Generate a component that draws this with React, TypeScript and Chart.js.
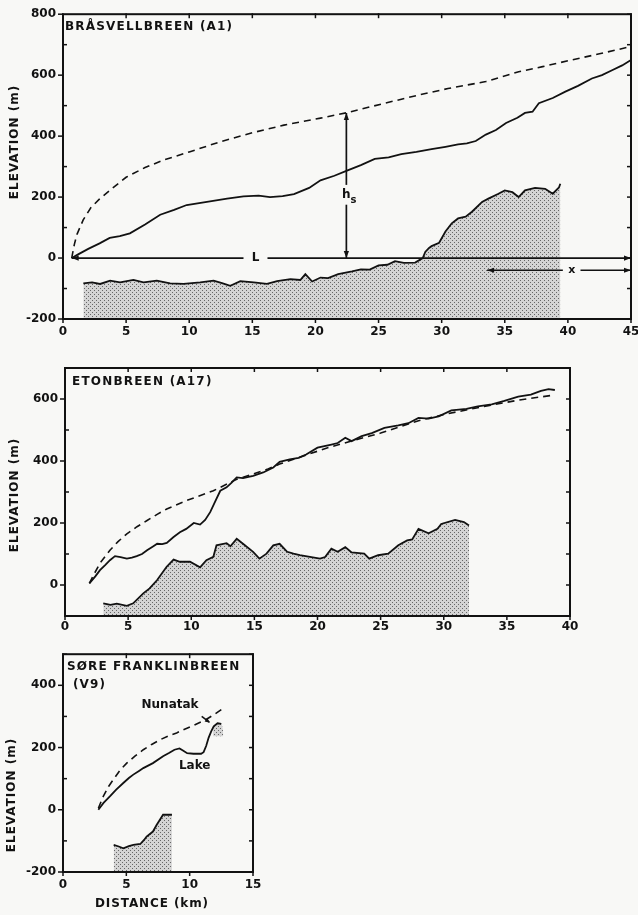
import { useEffect, useRef } from 'react';
import { Chart, registerables } from 'chart.js';
Chart.register(...registerables);

const INK = '#121212';
const FONT = 'DejaVu Sans';

// ---------- Panel 1: BRÅSVELLBREEN (A1) ----------
const a1SurfaceKm = [0.69, 1.2, 2.0, 2.9, 3.7, 4.5, 5.3, 6.5, 7.7, 8.8, 9.8, 11.4, 13.0, 14.3, 15.5, 16.4, 17.4, 18.3, 19.5, 20.4, 21.5, 22.5, 23.6, 24.7, 25.8, 26.8, 28.0, 29.2, 30.3, 31.3, 32.0, 32.7, 33.5, 34.3, 35.1, 36.0, 36.6, 37.2, 37.7, 38.8, 39.8, 40.8, 41.9, 42.7, 43.5, 44.3, 45.0];
const a1SurfaceM = [0, 12, 30, 48, 66, 72, 81, 110, 142, 158, 174, 184, 195, 202, 205, 200, 203, 210, 230, 255, 270, 287, 305, 325, 330, 341, 348, 357, 365, 373, 376, 384, 405, 420, 443, 460, 476, 480, 508, 525, 546, 565, 589, 600, 616, 632, 650];
const a1ModelKm = [0.69, 0.9, 1.1, 1.6, 2.2, 2.9, 4.0, 5.0, 6.5, 8.0, 10.0, 12.5, 15.0, 17.5, 20.4, 22.5, 25.5, 28.2, 30.5, 33.5, 36.1, 38.0, 40.1, 42.5, 45.0];
const a1ModelM = [0, 45, 77, 125, 165, 194, 232, 265, 297, 322, 348, 382, 411, 436, 459, 477, 508, 535, 556, 579, 611, 628, 648, 670, 694];
const a1BedKm = [1.61, 2.3, 2.94, 3.73, 4.52, 5.58, 6.38, 7.43, 8.49, 9.55, 10.87, 11.93, 12.6, 13.25, 14.05, 15.11, 16.16, 16.96, 18.02, 18.8, 19.2, 19.74, 20.4, 21.0, 21.8, 22.9, 23.6, 24.3, 25.0, 25.7, 26.3, 27.0, 27.9, 28.5, 28.7, 29.0, 29.2, 29.8, 30.3, 30.8, 31.3, 31.9, 32.4, 33.2, 33.7, 34.5, 35.0, 35.6, 36.1, 36.6, 37.4, 38.2, 38.8, 39.3, 39.4];
const a1BedM = [-83, -80, -85, -74, -80, -72, -80, -74, -83, -85, -80, -74, -82, -91, -76, -80, -85, -76, -69, -72, -53, -77, -64, -66, -53, -44, -37, -38, -24, -22, -10, -16, -15, 0, 20, 33, 39, 50, 87, 114, 130, 136, 152, 184, 195, 211, 222, 216, 200, 222, 230, 227, 211, 232, 244];

// ---------- Panel 2: ETONBREEN (A17) ----------
const a17SurfaceKm = [1.93, 2.4, 2.77, 3.2, 3.56, 3.96, 4.4, 4.9, 5.3, 5.68, 6.1, 6.5, 7.0, 7.3, 7.7, 8.06, 8.6, 9.1, 9.6, 10.2, 10.7, 11.1, 11.5, 11.9, 12.3, 12.8, 13.2, 13.6, 14.1, 14.9, 15.7, 16.5, 17.0, 17.8, 18.5, 19.1, 20.0, 21.1, 21.6, 22.2, 22.7, 23.5, 24.3, 25.3, 26.4, 27.2, 28.0, 28.8, 29.6, 30.6, 31.8, 32.7, 33.8, 34.8, 35.9, 36.9, 37.7, 38.3, 38.8];
const a17SurfaceM = [5, 28, 48, 65, 80, 93, 90, 85, 88, 93, 100, 112, 125, 133, 132, 136, 155, 170, 181, 200, 195, 210, 235, 270, 304, 315, 330, 347, 345, 352, 363, 379, 397, 405, 410, 421, 443, 453, 458, 475, 464, 480, 490, 507, 515, 522, 539, 537, 544, 563, 568, 576, 583, 594, 608, 614, 626, 632, 629];
const a17ModelKm = [1.93, 2.3, 2.8, 3.56, 4.2, 4.9, 5.7, 6.5, 7.3, 8.06, 9.6, 11.75, 13.6, 16.0, 17.0, 19.0, 21.0, 23.0, 25.0, 28.0, 30.0, 33.2, 36.0, 38.8];
const a17ModelM = [5, 35, 72, 112, 140, 165, 188, 208, 228, 245, 272, 304, 341, 373, 390, 418, 445, 468, 490, 530, 550, 576, 597, 613];
const a17BedKm = [3.03, 3.6, 4.1, 4.9, 5.4, 6.2, 6.7, 7.3, 8.05, 8.6, 9.1, 9.9, 10.7, 11.2, 11.75, 12.0, 12.8, 13.1, 13.6, 14.1, 14.9, 15.4, 15.96, 16.5, 17.0, 17.6, 18.1, 18.6, 19.4, 20.2, 20.6, 21.1, 21.6, 22.2, 22.7, 23.7, 24.1, 24.8, 25.6, 26.4, 27.1, 27.5, 28.0, 28.8, 29.5, 29.8, 30.9, 31.6, 32.0];
const a17BedM = [-59, -64, -60, -67, -59, -27, -11, 16, 59, 82, 75, 75, 57, 80, 91, 128, 135, 125, 149, 133, 107, 85, 101, 128, 133, 107, 101, 96, 91, 85, 90, 117, 107, 122, 105, 101, 85, 96, 101, 128, 144, 147, 181, 167, 181, 197, 210, 203, 192];

// ---------- Panel 3: SØRE FRANKLINBREEN (V9) ----------
const v9SurfaceKm = [2.79, 3.2, 3.7, 4.2, 4.76, 5.2, 5.55, 6.0, 6.34, 7.1, 7.9, 8.4, 8.8, 9.2, 9.5, 9.8, 10.3, 10.9, 11.1, 11.3, 11.5, 11.7, 11.9, 12.2, 12.5];
const v9SurfaceM = [0, 22, 43, 65, 86, 102, 113, 125, 134, 150, 172, 183, 193, 197, 190, 182, 180, 180, 185, 205, 232, 252, 268, 278, 276];
const v9ModelKm = [2.79, 3.18, 3.6, 3.97, 4.5, 5.03, 5.7, 6.34, 7.0, 7.66, 8.3, 8.97, 9.6, 10.3, 11.3, 12.0, 12.5];
const v9ModelM = [5, 43, 75, 97, 127, 150, 173, 193, 210, 225, 237, 247, 259, 271, 290, 308, 322];
const v9BedKm = [4.0, 4.4, 4.76, 5.2, 5.55, 6.1, 6.4, 6.6, 7.1, 7.4, 7.6, 7.9, 8.2, 8.6];
const v9BedM = [-113, -118, -124, -117, -113, -110, -97, -86, -70, -48, -35, -16, -16, -16];
const v9NunatakKm = [11.85, 12.0, 12.3, 12.55, 12.65];
const v9NunatakM = [262, 275, 280, 272, 250];

const pts = (xs: number[], ys: number[]) => xs.map((x, i) => ({ x, y: ys[i] }));

function makeStipple(ctx: CanvasRenderingContext2D) {
  const off = document.createElement('canvas');
  off.width = 4; off.height = 4;
  const c = off.getContext('2d')!;
  c.fillStyle = '#d4d4d4';
  c.fillRect(0, 0, 4, 4);
  c.fillStyle = '#666666';
  c.fillRect(0, 0, 1, 1);
  c.fillRect(2, 2, 1, 1);
  return ctx.createPattern(off, 'repeat');
}

function arrowHead(ctx: CanvasRenderingContext2D, x1: number, y1: number, x2: number, y2: number, size = 7, half = 2.6) {
  const a = Math.atan2(y2 - y1, x2 - x1);
  ctx.beginPath();
  ctx.moveTo(x2, y2);
  ctx.lineTo(x2 - size * Math.cos(a) + half * Math.sin(a), y2 - size * Math.sin(a) - half * Math.cos(a));
  ctx.lineTo(x2 - size * Math.cos(a) - half * Math.sin(a), y2 - size * Math.sin(a) + half * Math.cos(a));
  ctx.closePath();
  ctx.fill();
}

function seg(ctx: CanvasRenderingContext2D, x1: number, y1: number, x2: number, y2: number) {
  ctx.beginPath();
  ctx.moveTo(x1, y1);
  ctx.lineTo(x2, y2);
  ctx.stroke();
}

function txt(ctx: CanvasRenderingContext2D, s: string, x: number, y: number, align: CanvasTextAlign = 'left', baseline: CanvasTextBaseline = 'alphabetic', spacing = 0, rotate = false, size = 12) {
  ctx.save();
  ctx.font = `bold ${size}px "${FONT}"`;
  (ctx as any).letterSpacing = `${spacing}px`;
  ctx.fillStyle = INK;
  ctx.textAlign = align;
  ctx.textBaseline = baseline;
  if (rotate) {
    ctx.translate(x, y);
    ctx.rotate(-Math.PI / 2);
    ctx.fillText(s, 0, 0);
  } else {
    ctx.fillText(s, x, y);
  }
  ctx.restore();
}

const framePlugin = {
  id: 'frame',
  afterDatasetsDraw(chart: any) {
    const ctx: CanvasRenderingContext2D = chart.ctx;
    const { left, right, top, bottom } = chart.chartArea;
    const xs = chart.scales.x;
    const ys = chart.scales.y;
    ctx.save();
    ctx.strokeStyle = INK;
    ctx.lineWidth = 2;
    ctx.strokeRect(left, top, right - left, bottom - top);
    ctx.lineWidth = 1.5;
    for (let v = xs.min; v <= xs.max + 1e-6; v += 5) {
      const p = xs.getPixelForValue(v);
      seg(ctx, p, bottom, p, bottom + 4);
      seg(ctx, p, top - 1, p, top + 4);
    }
    for (let v = ys.min; v <= ys.max + 1e-6; v += 100) {
      const p = ys.getPixelForValue(v);
      if (v % 200 === 0) seg(ctx, left - 5, p, left, p);
      else seg(ctx, left, p, left + 4, p);
      seg(ctx, right - 4, p, right, p);
    }
    ctx.restore();
  },
};

function elevLabel(ctx: CanvasRenderingContext2D, x: number, y: number) {
  txt(ctx, 'ELEVATION (m)', x, y, 'center', 'middle', 1, true);
}

const deco1 = {
  id: 'deco1',
  afterDatasetsDraw(chart: any) {
    const ctx: CanvasRenderingContext2D = chart.ctx;
    const X = (v: number) => chart.scales.x.getPixelForValue(v);
    const Y = (v: number) => chart.scales.y.getPixelForValue(v);
    const { left, top } = chart.chartArea;
    ctx.save();
    ctx.strokeStyle = INK;
    ctx.fillStyle = INK;
    ctx.lineWidth = 1.7;
    // L line
    seg(ctx, X(0.69), Y(0), X(14.3), Y(0));
    seg(ctx, X(16.2), Y(0), X(45), Y(0));
    arrowHead(ctx, X(2), Y(0), X(0.69), Y(0));
    arrowHead(ctx, X(43), Y(0), X(45), Y(0));
    // h_s arrow
    seg(ctx, X(22.45), Y(0), X(22.45), Y(175));
    seg(ctx, X(22.45), Y(240), X(22.45), Y(476));
    arrowHead(ctx, X(22.45), Y(60), X(22.45), Y(0));
    arrowHead(ctx, X(22.45), Y(400), X(22.45), Y(476));
    // x arrow
    seg(ctx, X(33.6), Y(-40), X(39.6), Y(-40));
    seg(ctx, X(41.0), Y(-40), X(45), Y(-40));
    arrowHead(ctx, X(35), Y(-40), X(33.6), Y(-40));
    arrowHead(ctx, X(43.5), Y(-40), X(45), Y(-40));
    ctx.restore();
    txt(ctx, 'L', X(15.25), Y(0), 'center', 'middle');
    txt(ctx, 'h', X(22.45), Y(198), 'center', 'alphabetic');
    txt(ctx, 's', X(22.45) + 7, Y(198) + 5, 'center', 'alphabetic', 0, false, 10);
    txt(ctx, 'x', X(40.3), Y(-40), 'center', 'middle', 0, false, 11);
    txt(ctx, 'BRÅSVELLBREEN (A1)', left + 2, top + 16, 'left', 'alphabetic', 1.2);
    elevLabel(ctx, 15, 142);
  },
};

const deco2 = {
  id: 'deco2',
  afterDatasetsDraw(chart: any) {
    const ctx: CanvasRenderingContext2D = chart.ctx;
    const { left, top } = chart.chartArea;
    txt(ctx, 'ETONBREEN (A17)', left + 7, top + 17, 'left', 'alphabetic', 1.2);
    elevLabel(ctx, 15, 495 - 350);
  },
};

const deco3 = {
  id: 'deco3',
  afterDatasetsDraw(chart: any) {
    const ctx: CanvasRenderingContext2D = chart.ctx;
    const X = (v: number) => chart.scales.x.getPixelForValue(v);
    const Y = (v: number) => chart.scales.y.getPixelForValue(v);
    const { left, top } = chart.chartArea;
    ctx.save();
    ctx.strokeStyle = INK;
    ctx.fillStyle = INK;
    ctx.lineWidth = 1.5;
    seg(ctx, X(10.95), Y(300), X(11.55), Y(282));
    arrowHead(ctx, X(10.95), Y(300), X(11.6), Y(280), 5, 2.2);
    ctx.restore();
    txt(ctx, 'Nunatak', X(8.45), Y(338), 'center', 'middle');
    txt(ctx, 'Lake', X(10.4), Y(141), 'center', 'middle');
    txt(ctx, 'SØRE FRANKLINBREEN', left + 4, top + 16, 'left', 'alphabetic', 1.1);
    txt(ctx, '(V9)', left + 10, top + 34, 'left', 'alphabetic', 1.1);
    elevLabel(ctx, 12, 795 - 640);
    txt(ctx, 'DISTANCE (km)', 152, 904 - 640, 'center', 'middle', 0.9);
  },
};

interface PanelCfg {
  width: number;
  height: number;
  xMax: number;
  yMin: number;
  yMax: number;
  padTop: number;
  padRight: number;
  yWidth: number;
  xHeight: number;
  xPad: number;
  surface: { x: number; y: number }[];
  model: { x: number; y: number }[];
  bed: { x: number; y: number }[];
  extra?: { x: number; y: number }[];
  extraFloor?: number;
  deco: any;
}

function Panel({ cfg, top }: { cfg: PanelCfg; top: number }) {
  const ref = useRef<HTMLCanvasElement | null>(null);
  useEffect(() => {
    const canvas = ref.current!;
    const ctx = canvas.getContext('2d')!;
    const stipple = makeStipple(ctx);
    const tickFont = { family: FONT, weight: 'bold' as const, size: 12 };
    const datasets: any[] = [
      { data: cfg.surface, showLine: true, borderColor: INK, borderWidth: 1.8, pointRadius: 0, fill: false },
      { data: cfg.model, showLine: true, borderColor: INK, borderWidth: 1.6, borderDash: [7, 5], pointRadius: 0, fill: false },
      { data: cfg.bed, showLine: true, borderColor: INK, borderWidth: 1.8, pointRadius: 0, fill: 'start', backgroundColor: stipple },
    ];
    if (cfg.extra) {
      datasets.push({ data: cfg.extra, showLine: true, borderColor: 'rgba(0,0,0,0)', borderWidth: 0, pointRadius: 0, fill: { value: cfg.extraFloor }, backgroundColor: stipple });
    }
    const chart = new Chart(ctx, {
      type: 'scatter',
      data: { datasets },
      options: {
        responsive: false,
        animation: false,
        events: [],
        layout: { padding: { left: 0, top: cfg.padTop, right: cfg.padRight, bottom: 0 } },
        plugins: { legend: { display: false }, tooltip: { enabled: false } },
        elements: { line: { tension: 0 }, point: { radius: 0 } },
        scales: {
          x: {
            type: 'linear',
            min: 0,
            max: cfg.xMax,
            afterFit: (s: any) => { s.height = cfg.xHeight; },
            grid: { display: false, drawTicks: false },
            border: { display: false },
            ticks: { stepSize: 5, autoSkip: false, maxRotation: 0, padding: cfg.xPad, font: tickFont, color: INK, callback: (v: any) => String(v) },
          },
          y: {
            type: 'linear',
            min: cfg.yMin,
            max: cfg.yMax,
            afterFit: (s: any) => { s.width = cfg.yWidth; },
            grid: { display: false, drawTicks: false },
            border: { display: false },
            ticks: { stepSize: 100, autoSkip: false, padding: 7, font: tickFont, color: INK, callback: (v: any) => (Number(v) % 200 === 0 ? String(v) : '') },
          },
        },
      } as any,
      plugins: [framePlugin, cfg.deco],
    });
    return () => chart.destroy();
  }, [cfg]);
  return (
    <canvas
      ref={ref}
      width={cfg.width}
      height={cfg.height}
      style={{ position: 'absolute', left: 0, top, width: cfg.width, height: cfg.height }}
    />
  );
}

const panel1: PanelCfg = {
  width: 660, height: 345, xMax: 45, yMin: -200, yMax: 800, padTop: 10, padRight: 29, yWidth: 63, xHeight: 26, xPad: 6,
  surface: pts(a1SurfaceKm, a1SurfaceM), model: pts(a1ModelKm, a1ModelM), bed: pts(a1BedKm, a1BedM), deco: deco1,
};
const panel2: PanelCfg = {
  width: 638, height: 290, xMax: 40, yMin: -100, yMax: 700, padTop: 18, padRight: 68, yWidth: 65, xHeight: 24, xPad: 4,
  surface: pts(a17SurfaceKm, a17SurfaceM), model: pts(a17ModelKm, a17ModelM), bed: pts(a17BedKm, a17BedM), deco: deco2,
};
const panel3: PanelCfg = {
  width: 638, height: 275, xMax: 15, yMin: -200, yMax: 500, padTop: 14, padRight: 385, yWidth: 63, xHeight: 43, xPad: 6,
  surface: pts(v9SurfaceKm, v9SurfaceM), model: pts(v9ModelKm, v9ModelM), bed: pts(v9BedKm, v9BedM),
  extra: pts(v9NunatakKm, v9NunatakM), extraFloor: 236, deco: deco3,
};

export default function App() {
  return (
    <div style={{ position: 'absolute', left: 0, top: 0, width: 638, height: 915, overflow: 'hidden', background: '#f8f8f6' }}>
      <Panel cfg={panel1} top={0} />
      <Panel cfg={panel2} top={350} />
      <Panel cfg={panel3} top={640} />
    </div>
  );
}
